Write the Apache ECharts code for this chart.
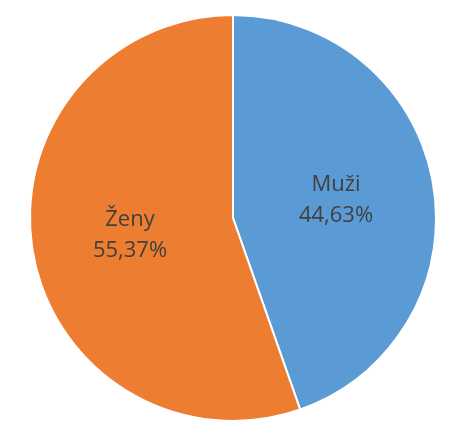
<!DOCTYPE html>
<html>
<head>
<meta charset="utf-8">
<script src="https://cdn.jsdelivr.net/npm/echarts@6/dist/echarts.min.js"></script>
<style>html,body{margin:0;padding:0;background:#fff;}#c{width:454px;height:431px;}</style>
</head>
<body>
<div id="c"></div>
<script>
var categories = ['Muži', 'Ženy'];
var values = [44.63, 55.37];
var colors = ['#5B9BD5', '#ED7D31'];

var chart = echarts.init(document.getElementById('c'));
chart.setOption({
  animation: false,
  series: [{
    type: 'pie',
    center: [233, 218],
    radius: [0, 203],
    startAngle: 90,
    clockwise: true,
    data: categories.map(function (n, i) {
      return { name: n, value: values[i], itemStyle: { color: colors[i] } };
    }),
    itemStyle: { borderColor: '#fff', borderWidth: 2 },
    label: {
      show: true,
      position: 'inside',
      fontFamily: 'Open Sans, Liberation Sans, sans-serif',
      fontSize: 22,
      lineHeight: 31,
      color: '#404040',
      formatter: function (p) {
        return p.name + '\n' + p.value.toFixed(2).replace('.', ',') + '%';
      }
    },
    labelLine: { show: false }
  }]
});
</script>
</body>
</html>
